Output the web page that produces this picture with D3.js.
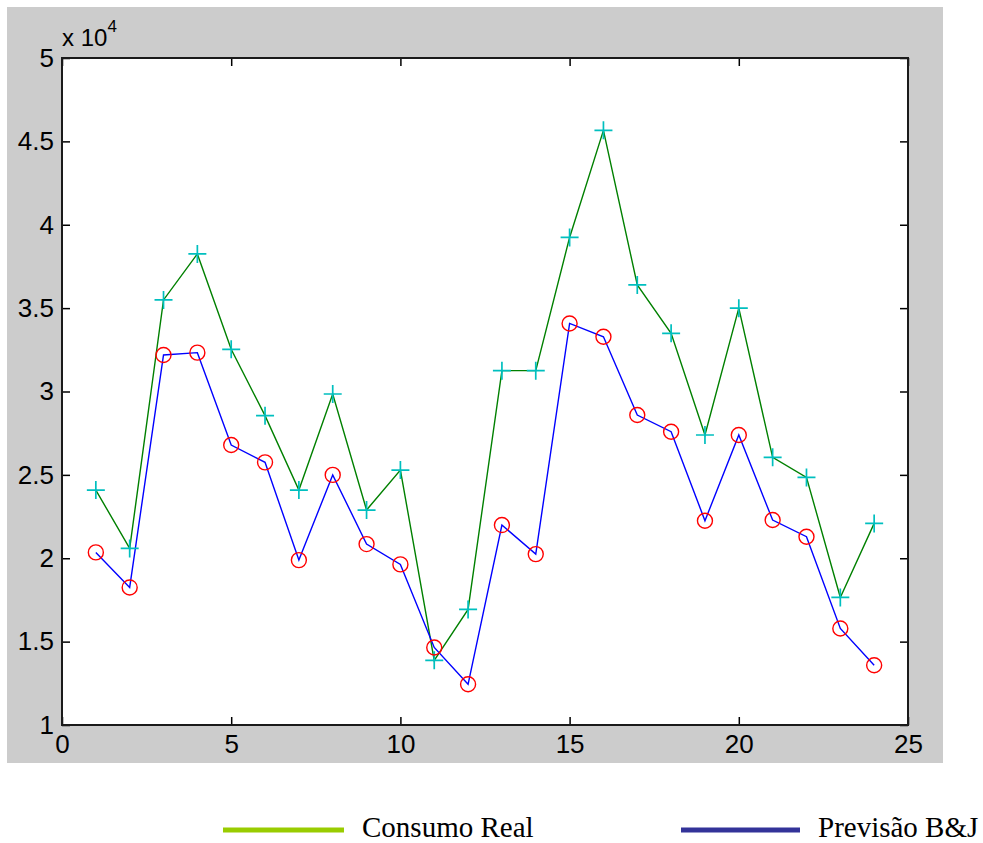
<!DOCTYPE html>
<html>
<head>
<meta charset="utf-8">
<script src="https://cdn.jsdelivr.net/npm/d3@7"></script>
<style>
  html, body { margin: 0; padding: 0; background: #ffffff; }
  svg { display: block; }
</style>
</head>
<body>
<svg id="chart" width="983" height="843"></svg>
<script>
// Monthly consumption: actual values and the B&J forecast
const periods = d3.range(1, 25);
const consumoReal = [24090, 20590, 35490, 38250, 32530, 28550, 24090, 29850, 22890, 25290,
                     13880, 16930, 31250, 31250, 39240, 45660, 36390, 33490, 27390, 35000,
                     26050, 24850, 17650, 22090];
const previsaoBJ  = [20350, 18250, 32190, 32330, 26790, 25750, 19890, 25000, 20850, 19630,
                     14650, 12440, 21990, 20250, 34080, 33280, 28590, 27590, 22250, 27390,
                     22290, 21290, 15790, 13580];
const xTicks = [0, 5, 10, 15, 20, 25];
const yTicks = [10000, 15000, 20000, 25000, 30000, 35000, 40000, 45000, 50000];
const legendLabels = ["Consumo Real", "Previsão B&J"];

const svg = d3.select("#chart");
const plotL = 62, plotR = 908, plotT = 58, plotB = 725;

// figure background
svg.append("rect").attr("x", 7).attr("y", 7).attr("width", 936).attr("height", 756)
  .attr("fill", "#cccccc");
svg.append("rect").attr("x", plotL).attr("y", plotT)
  .attr("width", plotR - plotL).attr("height", plotB - plotT).attr("fill", "#ffffff");

const x = d3.scaleLinear().domain([0, 25]).range([plotL, plotR]);
const y = d3.scaleLinear().domain([10000, 50000]).range([plotB, plotT]);

const fmtY = d => d3.format("~g")(d / 1e4);
const axisFont = "'Liberation Sans', Arial, sans-serif";

function styleAxis(g, labels) {
  g.select(".domain").remove();
  g.selectAll(".tick line").attr("stroke", "#000").attr("stroke-width", 1.5);
  g.selectAll(".tick text").attr("fill", labels ? "#000" : "none")
    .style("font-family", axisFont).style("font-size", "26px");
}

svg.append("g").attr("transform", `translate(${plotL},0)`)
  .call(d3.axisLeft(y).tickValues(yTicks).tickFormat(fmtY).tickSize(-8).tickPadding(8))
  .call(g => styleAxis(g, true));
svg.append("g").attr("transform", `translate(${plotR},0)`)
  .call(d3.axisRight(y).tickValues(yTicks).tickFormat("").tickSize(-8))
  .call(g => styleAxis(g, false));
svg.append("g").attr("transform", `translate(0,${plotB})`)
  .call(d3.axisBottom(x).tickValues(xTicks).tickSize(-8).tickPadding(10))
  .call(g => styleAxis(g, true));
svg.append("g").attr("transform", `translate(0,${plotT})`)
  .call(d3.axisTop(x).tickValues(xTicks).tickFormat("").tickSize(-8))
  .call(g => styleAxis(g, false));

// axes box
svg.append("rect").attr("x", plotL).attr("y", plotT)
  .attr("width", plotR - plotL).attr("height", plotB - plotT)
  .attr("fill", "none").attr("stroke", "#1a1a1a").attr("stroke-width", 2);

// exponent label
const expo = svg.append("text").attr("x", plotL).attr("y", 46)
  .style("font-family", axisFont).style("font-size", "24px").attr("fill", "#000");
expo.append("tspan").text("x 10");
expo.append("tspan").attr("dy", -14).style("font-size", "17px").text("4");

// series lines
const line = d3.line().x((d, i) => x(periods[i])).y(d => y(d));
svg.append("path").datum(consumoReal).attr("d", line)
  .attr("fill", "none").attr("stroke", "#008000").attr("stroke-width", 1.4);
svg.append("path").datum(previsaoBJ).attr("d", line)
  .attr("fill", "none").attr("stroke", "#0000ff").attr("stroke-width", 1.4);

// markers
svg.append("g").selectAll("path").data(consumoReal).join("path")
  .attr("transform", (d, i) => `translate(${x(periods[i])},${y(d)})`)
  .attr("d", "M-9,0H9M0,-9V9")
  .attr("stroke", "#00bfbf").attr("stroke-width", 1.7).attr("fill", "none");
svg.append("g").selectAll("circle").data(previsaoBJ).join("circle")
  .attr("cx", (d, i) => x(periods[i])).attr("cy", d => y(d)).attr("r", 7.5)
  .attr("stroke", "#ff0000").attr("stroke-width", 1.4).attr("fill", "none");

// legend
const legend = [
  { label: legendLabels[0], color: "#99cc00", x1: 223, x2: 344, tx: 362 },
  { label: legendLabels[1], color: "#333399", x1: 681, x2: 800, tx: 818 }
];
const lg = svg.append("g").selectAll("g").data(legend).join("g");
lg.append("line").attr("x1", d => d.x1).attr("x2", d => d.x2)
  .attr("y1", 830).attr("y2", 830).attr("stroke", d => d.color).attr("stroke-width", 5);
lg.append("text").attr("x", d => d.tx).attr("y", 837).text(d => d.label)
  .style("font-family", "'Liberation Serif', 'Times New Roman', serif")
  .style("font-size", "29px").attr("fill", "#000");
</script>
</body>
</html>
